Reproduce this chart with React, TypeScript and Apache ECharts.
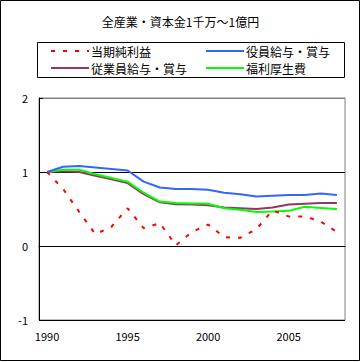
import React, { useEffect, useRef } from "react";
import * as echarts from "echarts";

const years = ["1990","1991","1992","1993","1994","1995","1996","1997","1998","1999","2000","2001","2002","2003","2004","2005","2006","2007","2008"];
const netIncome = [1.0, 0.77, 0.46, 0.16, 0.26, 0.51, 0.24, 0.31, 0.01, 0.19, 0.29, 0.12, 0.11, 0.23, 0.48, 0.40, 0.40, 0.33, 0.19];
const officers = [1.0, 1.07, 1.08, 1.06, 1.04, 1.02, 0.87, 0.79, 0.77, 0.77, 0.76, 0.72, 0.70, 0.67, 0.68, 0.69, 0.69, 0.71, 0.69];
const employees = [1.0, 1.01, 1.0, 0.95, 0.90, 0.85, 0.70, 0.59, 0.565, 0.56, 0.55, 0.52, 0.51, 0.50, 0.52, 0.56, 0.57, 0.58, 0.58];
const welfare = [1.0, 1.03, 1.03, 0.97, 0.92, 0.87, 0.72, 0.60, 0.58, 0.575, 0.57, 0.51, 0.49, 0.46, 0.465, 0.475, 0.53, 0.515, 0.50];
const names = ["当期純利益", "役員給与・賞与", "従業員給与・賞与", "福利厚生費"];
const yTicks = { min: -1, max: 2, interval: 1 };

const FONT = "'Noto Sans CJK JP', sans-serif";

export default function App() {
  const ref = useRef<HTMLDivElement>(null);
  useEffect(() => {
    document.body.style.margin = "0";
    const chart = echarts.init(ref.current!, null, { renderer: "svg" });
    const legendCommon = {
      orient: "vertical",
      top: 45,
      itemWidth: 38,
      itemHeight: 12,
      itemGap: 5,
      padding: 0,
      icon: undefined,
      itemStyle: { opacity: 0 },
      textStyle: { fontFamily: FONT, fontSize: 12, color: "#000", padding: [0, 0, 0, -3] },
    };
    chart.setOption({
      animation: false,
      backgroundColor: "#fff",
      title: {
        text: "全産業・資本金1千万～1億円",
        left: "center",
        top: 15,
        padding: 0,
        textStyle: { fontFamily: FONT, fontSize: 12, fontWeight: "normal", color: "#000" },
      },
      legend: [
        { ...legendCommon, left: 50, data: [names[0], names[2]] },
        { ...legendCommon, left: 205, data: [names[1], names[3]] },
      ],
      graphic: [
        { type: "rect", shape: { x: 0.5, y: 0.5, width: 359, height: 360 }, style: { fill: "none", stroke: "#000", lineWidth: 1 }, silent: true },
        { type: "rect", shape: { x: 37.5, y: 42.5, width: 307, height: 35 }, style: { fill: "none", stroke: "#000", lineWidth: 1 }, silent: true },
      ],
      grid: { left: 39, right: 16, top: 98, bottom: 42, show: true, borderColor: "#808080", borderWidth: 1 },
      xAxis: {
        type: "category",
        data: years,
        boundaryGap: true,
        axisLine: { lineStyle: { color: "#000", width: 1 } },
        axisTick: { inside: true, length: 4, interval: 0, lineStyle: { color: "#000" } },
        axisLabel: { interval: 4, margin: 10, fontFamily: FONT, fontSize: 11, color: "#000" },
        splitLine: { show: false },
      },
      yAxis: {
        type: "value",
        min: yTicks.min,
        max: yTicks.max,
        interval: yTicks.interval,
        axisLine: { show: true, lineStyle: { color: "#000", width: 1 } },
        axisTick: { show: true, inside: true, length: 4, lineStyle: { color: "#000" } },
        axisLabel: { margin: 11, fontFamily: FONT, fontSize: 11, color: "#000" },
        splitLine: { show: true, lineStyle: { color: ["#000", "#000", "#000", "#808080"], width: 1 } },
      },
      series: [
        { name: names[0], type: "line", data: netIncome, symbol: "none", lineStyle: { color: "#ff0000", width: 2, type: [4, 8] }, itemStyle: { color: "#ff0000" }, z: 5 },
        { name: names[1], type: "line", data: officers, symbol: "none", lineStyle: { color: "#3366ff", width: 2 }, itemStyle: { color: "#3366ff" }, z: 4 },
        { name: names[2], type: "line", data: employees, symbol: "none", lineStyle: { color: "#993366", width: 2 }, itemStyle: { color: "#993366" }, z: 2 },
        { name: names[3], type: "line", data: welfare, symbol: "none", lineStyle: { color: "#00ff00", width: 2 }, itemStyle: { color: "#00ff00" }, z: 3 },
      ],
    });
    return () => chart.dispose();
  }, []);
  return <div ref={ref} style={{ width: 361, height: 362 }} />;
}
